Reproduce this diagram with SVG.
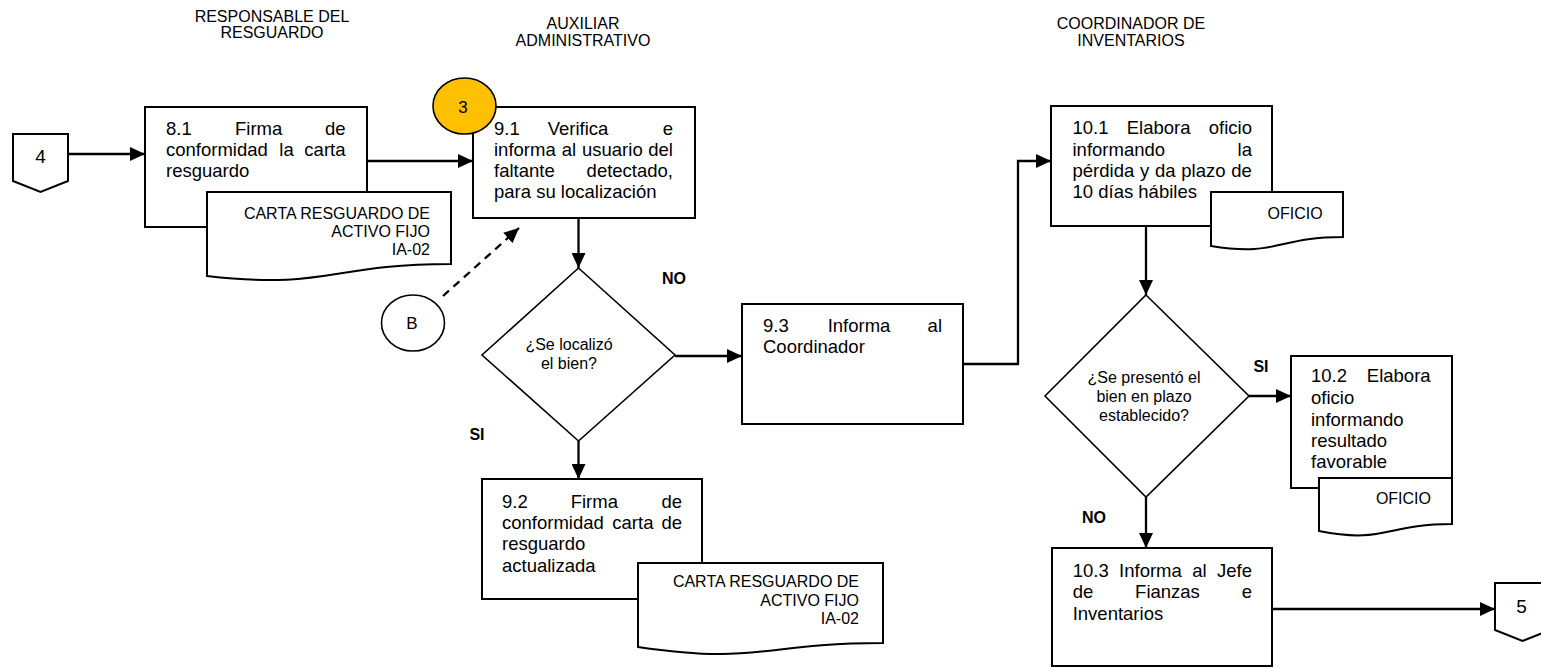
<svg xmlns="http://www.w3.org/2000/svg" width="1541" height="668" viewBox="0 0 1541 668">
<style>
text{font-family:"Liberation Sans",Arial,sans-serif;fill:#000}
.h{font-size:16px;text-anchor:middle}
.t{font-size:18.5px}
.e{text-anchor:end}
.d{font-size:16px;text-anchor:end}
.q{font-size:16px;text-anchor:middle}
.b{font-size:16px;font-weight:bold;text-anchor:middle}
.n{font-size:19px;text-anchor:middle}
.box{fill:#fff;stroke:#000;stroke-width:2}
.doc{fill:#fff;stroke:#000;stroke-width:2}
.dia{fill:#fff;stroke:#000;stroke-width:1.6}
.cir{fill:#fff;stroke:#000;stroke-width:1.6}
.c{fill:none;stroke:#000;stroke-width:2.3}
</style>
<defs>
<marker id="ah" markerUnits="userSpaceOnUse" markerWidth="15" markerHeight="14" refX="15" refY="7" orient="auto">
<path d="M0,0 L15,7 L0,14 Z" fill="#000"/>
</marker>
</defs>
<rect width="1541" height="668" fill="#fff"/>

<g id="headers">
<text class="h" x="272" y="22">RESPONSABLE DEL</text>
<text class="h" x="272" y="38">RESGUARDO</text>
<text class="h" x="583" y="29">AUXILIAR</text>
<text class="h" x="583" y="46">ADMINISTRATIVO</text>
<text class="h" x="1131" y="29">COORDINADOR DE</text>
<text class="h" x="1131" y="46">INVENTARIOS</text>
</g>

<g id="connectors">
<path class="c" d="M68,154 H145" marker-end="url(#ah)"/>
<path class="c" d="M367,161 H473" marker-end="url(#ah)"/>
<path class="c" d="M578.5,218 V268" marker-end="url(#ah)"/>
<path class="c" d="M675,356 H742" marker-end="url(#ah)"/>
<path class="c" d="M578.5,441 V479" marker-end="url(#ah)"/>
<path class="c" d="M963,364 H1018 V161 H1051" marker-end="url(#ah)"/>
<path class="c" d="M1146,226 V295" marker-end="url(#ah)"/>
<path class="c" d="M1249,396 H1291" marker-end="url(#ah)"/>
<path class="c" d="M1146,497 V548" marker-end="url(#ah)"/>
<path class="c" d="M1272,609 H1495" marker-end="url(#ah)"/>
<path class="c" d="M443,296 L519,228" stroke-dasharray="8,6" marker-end="url(#ah)"/>
<text class="b" x="674" y="284">NO</text>
<text class="b" x="477" y="440">SI</text>
<text class="b" x="1261" y="372">SI</text>
<text class="b" x="1094" y="523">NO</text>
</g>

<g id="c4">
<path class="box" d="M13,134 H68 V181 L40.5,192 L13,181 Z"/>
<text class="n" x="40.5" y="163">4</text>
</g>

<g id="n81">
<rect class="box" x="145" y="107" width="222" height="120"/>
<text class="t"><tspan x="166" y="135">8.1</tspan><tspan x="235" y="135">Firma</tspan><tspan x="166" y="156">conformidad</tspan><tspan x="279.3" y="156">la</tspan><tspan x="166" y="177">resguardo</tspan></text>
<text class="t e" x="345.5" y="135">de</text>
<text class="t e" x="345.5" y="156">carta</text>
</g>

<g id="doc1">
<path class="doc" d="M207,192 H451 V264 C329,264 329,290 207,276 Z"/>
<text class="d" x="430" y="218.5">CARTA RESGUARDO DE</text>
<text class="d" x="430" y="236.5">ACTIVO FIJO</text>
<text class="d" x="430" y="254.5">IA-02</text>
</g>

<g id="n91">
<rect class="box" x="473" y="107" width="222" height="111"/>
<text class="t"><tspan x="494" y="135">9.1</tspan><tspan x="547.7" y="135">Verifica</tspan><tspan x="494" y="156">informa</tspan><tspan x="561.8" y="156">al</tspan><tspan x="582" y="156">usuario</tspan><tspan x="494" y="177">faltante</tspan><tspan x="494" y="198">para su localización</tspan></text>
<text class="t e" x="673" y="135">e</text>
<text class="t e" x="673" y="156">del</text>
<text class="t e" x="673" y="177">detectado,</text>
</g>

<g id="c3">
<ellipse cx="464.5" cy="106" rx="31.5" ry="28" fill="#FFC000" stroke="#000" stroke-width="1.6"/>
<text class="q" x="463" y="112.5" style="font-size:17px">3</text>
</g>

<g id="cB">
<ellipse class="cir" cx="413" cy="323" rx="31.5" ry="28"/>
<text class="q" x="412" y="329" style="font-size:17px">B</text>
</g>

<g id="d1">
<path class="dia" d="M578.5,268 L675,355 L578.5,441 L482,355 Z"/>
<text class="q" x="569" y="350">¿Se localizó</text>
<text class="q" x="569" y="369">el bien?</text>
</g>

<g id="n93">
<rect class="box" x="742" y="304" width="221" height="120"/>
<text class="t"><tspan x="763" y="332">9.3</tspan><tspan x="827.7" y="332">Informa</tspan><tspan x="763" y="353">Coordinador</tspan></text>
<text class="t e" x="942" y="332">al</text>
</g>

<g id="n92">
<rect class="box" x="482" y="479" width="220" height="120"/>
<text class="t"><tspan x="502" y="508">9.2</tspan><tspan x="570.7" y="508">Firma</tspan><tspan x="502" y="529">conformidad</tspan><tspan x="612.3" y="529">carta</tspan><tspan x="502" y="550">resguardo</tspan><tspan x="502" y="572">actualizada</tspan></text>
<text class="t e" x="682" y="508">de</text>
<text class="t e" x="682" y="529">de</text>
</g>

<g id="doc2">
<path class="doc" d="M638,563 H883 V643 C760,643 760,665 638,647 Z"/>
<text class="d" x="859" y="587">CARTA RESGUARDO DE</text>
<text class="d" x="859" y="605.5">ACTIVO FIJO</text>
<text class="d" x="859" y="624">IA-02</text>
</g>

<g id="n101">
<rect class="box" x="1051" y="106" width="221" height="120"/>
<text class="t"><tspan x="1072.5" y="134">10.1</tspan><tspan x="1126.7" y="134">Elabora</tspan><tspan x="1072.5" y="156">informando</tspan><tspan x="1072.5" y="177" word-spacing="0.6">pérdida y da plazo de</tspan><tspan x="1072.5" y="198">10 días hábiles</tspan></text>
<text class="t e" x="1252" y="134">oficio</text>
<text class="t e" x="1252" y="156">la</text>
</g>

<g id="doc3">
<path class="doc" d="M1211,192 H1343 V237 C1277,237 1277,257 1211,246 Z"/>
<text class="d" x="1322.6" y="219">OFICIO</text>
</g>

<g id="d2">
<path class="dia" d="M1146,295 L1249,396 L1146,497 L1045,396 Z"/>
<text class="q" x="1144" y="383">¿Se presentó el</text>
<text class="q" x="1144" y="402">bien en plazo</text>
<text class="q" x="1144" y="421">establecido?</text>
</g>

<g id="n102">
<rect class="box" x="1291" y="356" width="161" height="132"/>
<text class="t"><tspan x="1311" y="382">10.2</tspan><tspan x="1311" y="404">oficio</tspan><tspan x="1311" y="426">informando</tspan><tspan x="1311" y="447">resultado</tspan><tspan x="1311" y="468">favorable</tspan></text>
<text class="t e" x="1430.6" y="382">Elabora</text>
</g>

<g id="doc4">
<path class="doc" d="M1319,478 H1452 V524 C1385,524 1385,544 1319,531 Z"/>
<text class="d" x="1431" y="504">OFICIO</text>
</g>

<g id="n103">
<rect class="box" x="1052" y="548" width="220" height="118"/>
<text class="t"><tspan x="1072.7" y="577">10.3</tspan><tspan x="1119.1" y="577">Informa</tspan><tspan x="1192.2" y="577">al</tspan><tspan x="1072.7" y="598">de</tspan><tspan x="1135.1" y="598">Fianzas</tspan><tspan x="1072.7" y="620">Inventarios</tspan></text>
<text class="t e" x="1252" y="577">Jefe</text>
<text class="t e" x="1252" y="598">e</text>
</g>

<g id="c5">
<path class="box" d="M1495,583 H1550 V630 L1522.5,641 L1495,630 Z"/>
<text class="n" x="1521.5" y="613">5</text>
</g>
</svg>
